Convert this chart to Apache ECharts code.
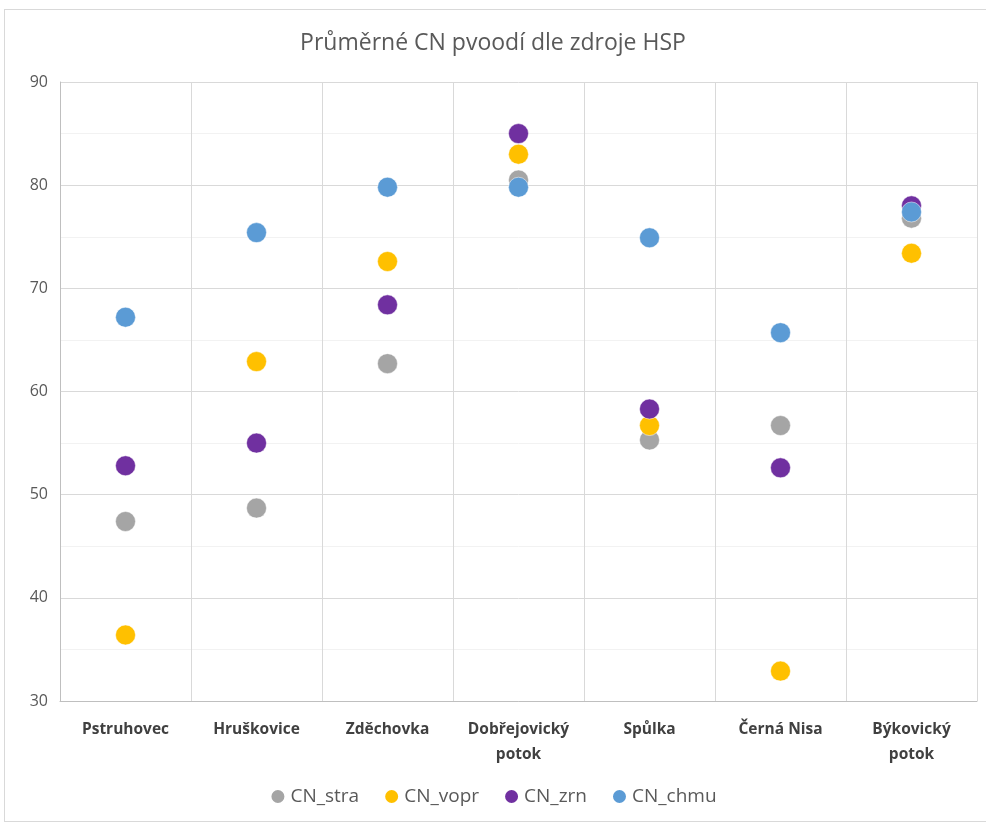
<!DOCTYPE html>
<html lang="cs">
<head>
<meta charset="UTF-8">
<title>Průměrné CN pvoodí dle zdroje HSP</title>
<script src="https://cdn.jsdelivr.net/npm/echarts@6/dist/echarts.min.js"></script>
<style>
    html, body { margin: 0; padding: 0; background: #fff; }
    .frame { position: absolute; left: 4px; top: 9px; width: 990px; height: 811px; border: 1px solid #d9d9d9; }
    #chart { position: absolute; left: 0; top: 0; width: 986px; height: 823px; }
</style>
</head>
<body>
<div class="frame"></div>
<div id="chart"></div>
<script>
    // povodí
    var categories = ['Pstruhovec', 'Hruškovice', 'Zděchovka', 'Dobřejovický\npotok', 'Spůlka', 'Černá Nisa', 'Býkovický\npotok'];
    // hodnoty CN podle zdroje
    var cnStra = [47.4, 48.7, 62.7, 80.5, 55.3, 56.7, 76.8];
    var cnVopr = [36.4, 62.9, 72.6, 83.0, 56.7, 32.9, 73.4];
    var cnZrn  = [52.8, 55.0, 68.4, 85.0, 58.3, 52.6, 78.0];
    var cnChmu = [67.2, 75.4, 79.8, 79.8, 74.9, 65.7, 77.4];
    var seriesNames = ['CN_stra', 'CN_vopr', 'CN_zrn', 'CN_chmu'];
    var colors = ['#a5a5a5', '#ffc000', '#7030a0', '#5b9bd5'];

    var font = '"Open Sans", "Noto Sans", sans-serif';
    var chart = echarts.init(document.getElementById('chart'));

    var allData = [cnStra, cnVopr, cnZrn, cnChmu];
    var series = [];
    for (var i = 0; i < allData.length; i++) {
        series.push({
            name: seriesNames[i],
            type: 'scatter',
            data: allData[i],
            symbol: 'circle',
            symbolSize: 20,
            itemStyle: { color: colors[i], opacity: 1, borderColor: '#fff', borderWidth: 0.5 }
        });
    }

    chart.setOption({
        animation: false,
        color: colors,
        title: {
            text: 'Průměrné CN pvoodí dle zdroje HSP',
            left: 'center',
            top: 27,
            textStyle: { fontFamily: font, fontSize: 23, fontWeight: 'normal', color: '#595959' }
        },
        legend: {
            bottom: 12,
            left: 'center',
            itemWidth: 15,
            itemHeight: 15,
            itemGap: 24,
            icon: 'circle',
            textStyle: { fontFamily: font, fontSize: 19, color: '#595959' },
            data: seriesNames
        },
        grid: { left: 60, right: 9, top: 82, bottom: 122 },
        xAxis: {
            type: 'category',
            data: categories,
            boundaryGap: true,
            axisLine: { lineStyle: { color: '#bfbfbf' } },
            axisTick: { show: false },
            splitLine: { show: true, lineStyle: { color: '#d9d9d9' } },
            axisLabel: {
                interval: 0,
                margin: 16,
                fontFamily: font,
                fontSize: 15.5,
                fontWeight: 'bold',
                color: '#404040',
                lineHeight: 25
            }
        },
        yAxis: {
            type: 'value',
            min: 30,
            max: 90,
            interval: 10,
            axisLine: { show: true, lineStyle: { color: '#bfbfbf' } },
            axisTick: { show: false },
            splitLine: { lineStyle: { color: '#d9d9d9' } },
            minorTick: { show: false, splitNumber: 2 },
            minorSplitLine: { show: true, lineStyle: { color: '#f2f2f2' } },
            axisLabel: { margin: 12, fontFamily: font, fontSize: 16, color: '#595959' }
        },
        series: series
    });
</script>
</body>
</html>
